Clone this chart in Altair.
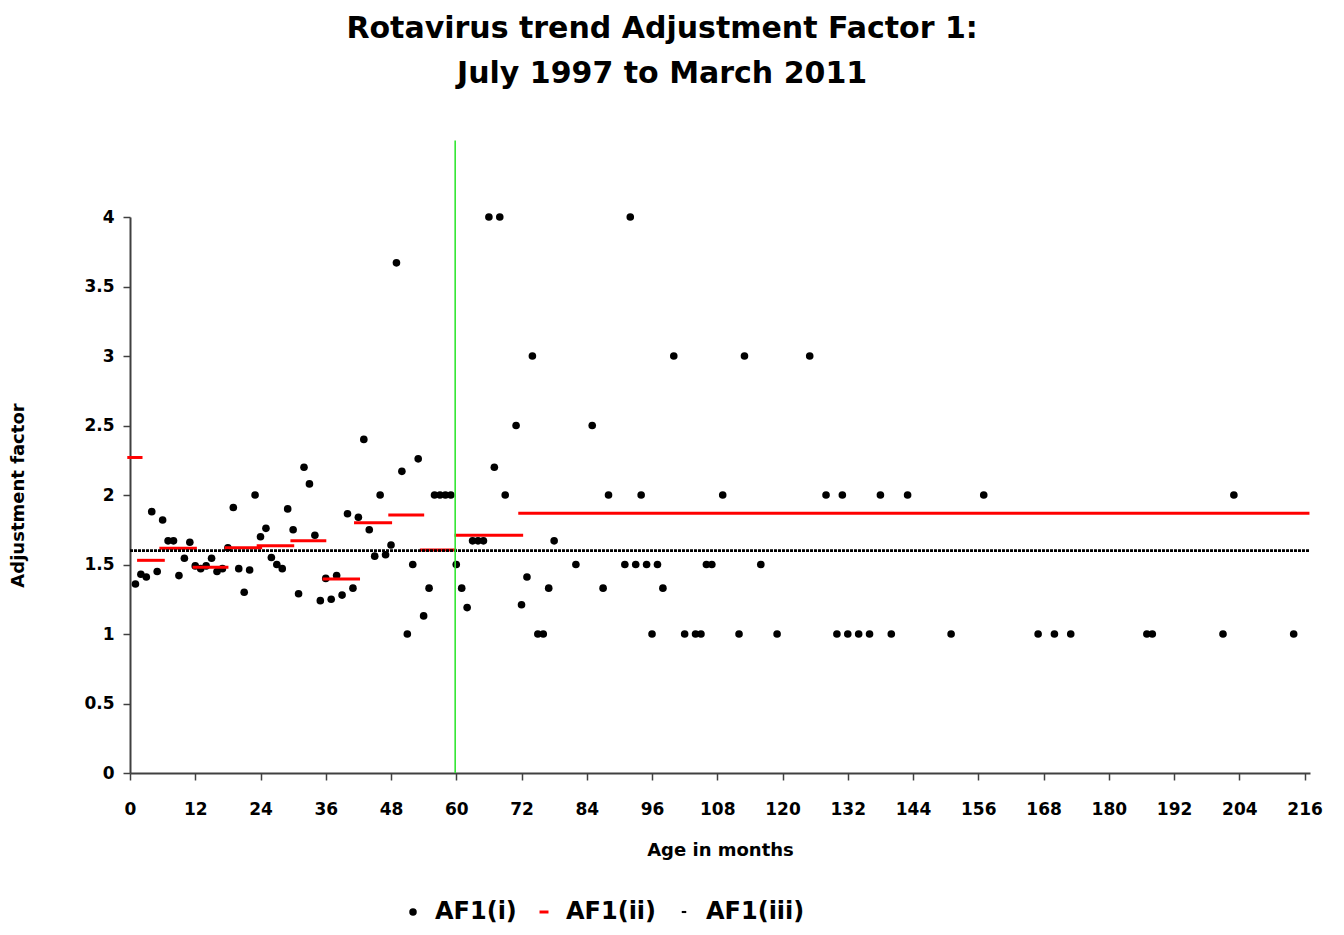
import altair as alt
import pandas as pd

# ---------------- data ----------------
months = [1, 2, 3, 4, 5, 6, 7, 8, 9, 10, 11, 12, 13, 14, 15, 16, 17, 18, 19, 20,
          21, 22, 23, 24, 25, 26, 27, 28, 29, 30, 31, 32, 33, 34, 35, 36, 37, 38, 39, 40,
          41, 42, 43, 44, 45, 46, 47, 48, 49, 50, 51, 52, 53, 54, 55, 56, 57, 58, 59, 60,
          61, 62, 63, 64, 65, 66, 67, 68, 69, 71, 72, 73, 74, 75, 76, 77, 78, 82, 85, 87,
          88, 91, 92, 93, 94, 95, 96, 97, 98, 100, 102, 104, 105, 106, 107, 109, 112, 113, 116, 119,
          125, 128, 130, 131, 132, 134, 136, 138, 140, 143, 151, 157, 167, 170, 173, 187, 188, 201, 203, 214]
af1_i = [1.36, 1.43, 1.41, 1.88, 1.45, 1.82, 1.67, 1.67, 1.42, 1.545, 1.66, 1.49, 1.47, 1.49, 1.545, 1.45, 1.47, 1.62, 1.91, 1.47,
         1.30, 1.46, 2.0, 1.70, 1.76, 1.55, 1.50, 1.47, 1.90, 1.75, 1.29, 2.20, 2.08, 1.71, 1.24, 1.40, 1.25, 1.42, 1.28, 1.865,
         1.33, 1.84, 2.40, 1.75, 1.56, 2.0, 1.57, 1.64, 3.67, 2.17, 1.0, 1.50, 2.26, 1.13, 1.33, 2.0, 2.0, 2.0, 2.0, 1.5,
         1.33, 1.19, 1.67, 1.67, 1.67, 4.0, 2.2, 4.0, 2.0, 2.5, 1.21, 1.41, 3.0, 1.0, 1.0, 1.33, 1.67, 1.5, 2.5, 1.33,
         2.0, 1.5, 4.0, 1.5, 2.0, 1.5, 1.0, 1.5, 1.33, 3.0, 1.0, 1.0, 1.0, 1.5, 1.5, 2.0, 1.0, 3.0, 1.5, 1.0,
         3.0, 2.0, 1.0, 2.0, 1.0, 1.0, 1.0, 2.0, 1.0, 2.0, 1.0, 2.0, 1.0, 1.0, 1.0, 1.0, 1.0, 1.0, 2.0, 1.0]

seg_start = [-0.5, 1.3, 5.4, 11.5, 17.4, 23.3, 29.5, 35.4, 41.2, 47.5, 53.3, 59.7, 71.4]
seg_end = [2.3, 6.4, 12.3, 18.1, 24.3, 30.2, 36.1, 42.3, 48.2, 54.1, 60.0, 72.3, 216.9]
af1_ii = [2.27, 1.53, 1.617, 1.48, 1.62, 1.635, 1.67, 1.395, 1.80, 1.856, 1.604, 1.71, 1.868]

af1_iii_start = [0]
af1_iii_end = [217]
af1_iii = [1.6]

cutoff_month = [59.8]
cutoff_low = [0]
cutoff_high = [4.55]

series_names = ["AF1(i)", "AF1(ii)", "AF1(iii)"]
x_ticks = list(range(0, 217, 6))
y_ticks = [0, 0.5, 1, 1.5, 2, 2.5, 3, 3.5, 4]

FONT = "DejaVu Sans"
X_TITLE = "Age in months"
Y_TITLE = "Adjustment factor"

pts = pd.DataFrame({"month": months, "af": af1_i, "series": series_names[0]})
segs = pd.DataFrame({"start": seg_start, "end": seg_end, "af": af1_ii})
flat = pd.DataFrame({"start": af1_iii_start, "end": af1_iii_end, "af": af1_iii})
cut = pd.DataFrame({"month": cutoff_month, "lo": cutoff_low, "hi": cutoff_high})

xscale = alt.Scale(domain=[0, 217], nice=False, zero=False)
yscale = alt.Scale(domain=[0, 4], nice=False)

xaxis = alt.Axis(values=x_ticks, labelExpr="datum.value % 12 == 0 ? datum.label : ''",
                 grid=False, tickSize=7, labelPadding=21, titlePadding=24, labelFlush=False)
yaxis = alt.Axis(values=y_ticks, format="~g", grid=False, tickSize=7, labelPadding=9,
                 titlePadding=56)

red_dash = "M-1.2,-0.4H1.2V0.4H-1.2Z"
black_dash = "M-0.6,-0.28H0.6V0.28H-0.6Z"

legend = alt.Legend(title=None, orient="none", legendX=271, legendY=683, direction="horizontal",
                    symbolSize=56, symbolStrokeWidth=0, labelFont=FONT, labelFontSize=24,
                    labelFontWeight="bold", labelColor="black", labelOffset=10, columnPadding=15)

points = alt.Chart(pts).mark_point(filled=True, opacity=1, size=58).encode(
    x=alt.X("month:Q", scale=xscale, axis=xaxis, title=X_TITLE),
    y=alt.Y("af:Q", scale=yscale, axis=yaxis, title=Y_TITLE),
    color=alt.Color("series:N", scale=alt.Scale(domain=series_names, range=["black", "#ff0000", "black"]),
                    legend=legend),
    shape=alt.Shape("series:N", scale=alt.Scale(domain=series_names, range=["circle", red_dash, black_dash]),
                    legend=legend),
)

red = alt.Chart(segs).mark_rule(color="#ff0000", strokeWidth=3).encode(
    x=alt.X("start:Q", title=X_TITLE), x2="end:Q",
    y=alt.Y("af:Q", title=Y_TITLE),
)

black = alt.Chart(flat).mark_rule(color="black", strokeWidth=2.6, strokeDash=[3, 1]).encode(
    x=alt.X("start:Q", title=X_TITLE), x2="end:Q",
    y=alt.Y("af:Q", title=Y_TITLE),
)

green = alt.Chart(cut).mark_rule(color="#33e633", strokeWidth=1.6).encode(
    x=alt.X("month:Q", title=X_TITLE),
    y=alt.Y("lo:Q", title=Y_TITLE), y2="hi:Q",
)

chart = alt.layer(points, red, black, green).properties(
    width=1180, height=556,
    autosize=alt.AutoSizeParams(type="none"),
    padding={"left": 122, "top": 209, "right": 26, "bottom": 154},
    title=alt.TitleParams(
        text=["Rotavirus trend Adjustment Factor 1:", "July 1997 to March 2011"],
        font=FONT, fontSize=30, fontWeight="bold", color="black",
        anchor="middle", frame="bounds", lineHeight=45, offset=51, dx=-4),
).configure_view(stroke=None).configure_axis(
    domainColor="#404040", domainWidth=2, tickColor="#404040", tickWidth=1.5,
    labelFont=FONT, labelFontWeight="bold", labelFontSize=17, labelColor="black",
    titleFont=FONT, titleFontWeight="bold", titleFontSize=18, titleColor="black",
)

chart.save("out.html", embed_options={"renderer": "svg", "actions": False})
